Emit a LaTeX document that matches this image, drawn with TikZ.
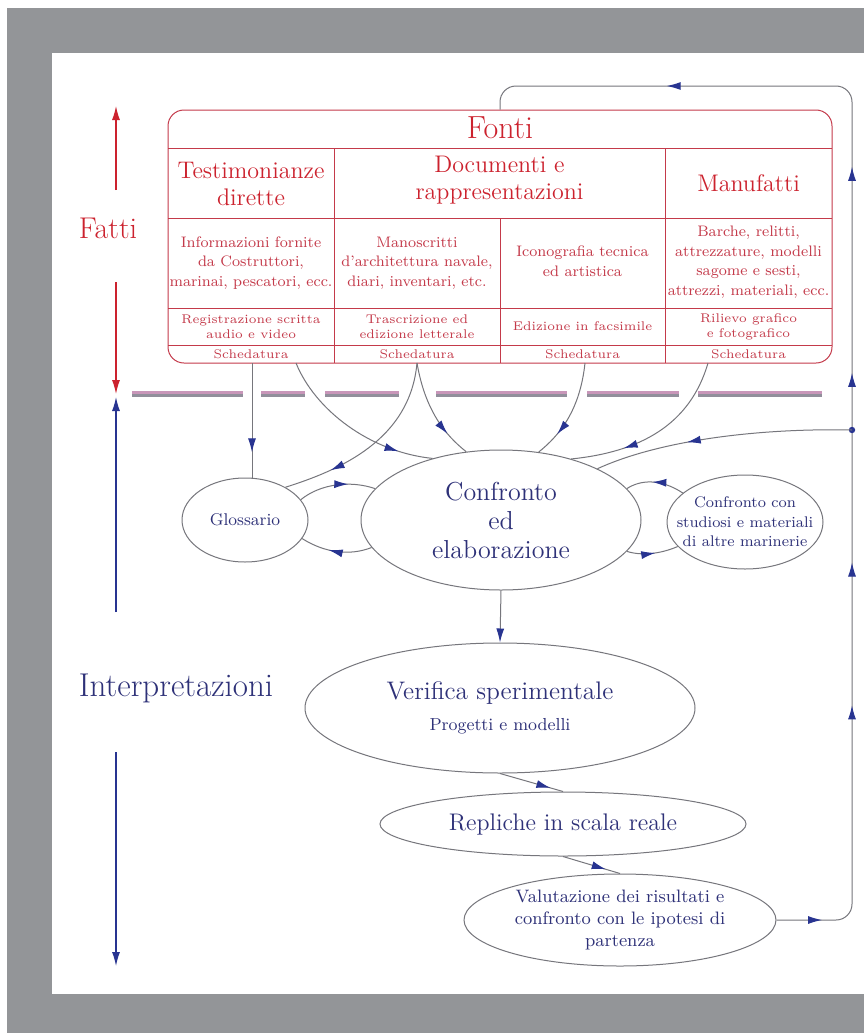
\documentclass[tikz,border=0pt]{standalone}
\usepackage{fontspec}
\usetikzlibrary{arrows.meta,shapes.geometric,decorations.markings}

\definecolor{framegray}{RGB}{147,149,152}
\definecolor{fontired}{RGB}{204,34,46}
\definecolor{boxred}{RGB}{196,58,74}
\definecolor{navytext}{RGB}{46,49,120}
\definecolor{navyhead}{RGB}{40,52,145}
\definecolor{linegray}{RGB}{118,118,124}
\definecolor{sepgray}{RGB}{145,143,155}
\definecolor{seppink}{RGB}{200,150,185}

\begin{document}
\begin{tikzpicture}[x=0.5pt,y=-0.5pt,
  navytip/.tip={Latex[length=7pt,width=4pt,color=navyhead]},
  redtip/.tip={Latex[length=7pt,width=4pt,color=fontired]},
  conn/.style={draw=linegray,line width=0.5pt},
  arrowat/.style={postaction={decorate},decoration={markings,mark=at position #1 with {\arrow{navytip}}}},
  blob/.style={ellipse,draw=linegray,line width=0.5pt,inner xsep=-10pt,inner ysep=-6pt,text=navytext,align=center},
  cell/.style={text=boxred,align=center,inner sep=0pt}]

% background
\useasboundingbox (0,0) rectangle (864,1033);
\fill[white] (0,0) rectangle (864,1033);
\fill[framegray] (7,8) rectangle (864,1033);
\fill[white] (52,53) rectangle (864,994);

% fonti table
\node[draw=boxred,line width=0.5pt,rounded corners=8pt,minimum width=332pt,minimum height=126.5pt,inner sep=0pt] (fonti) at (500,236.5) {};
\draw[boxred,line width=0.5pt] (168,148) -- (832,148) (168,218) -- (832,218)
  (168,308) -- (832,308) (168,345) -- (832,345);
\draw[boxred,line width=0.5pt] (334,148) -- (334,363) (665,148) -- (665,363) (500,218) -- (500,363);

\node[text=fontired,font=\fontsize{16}{18}\selectfont] (title) at (500,128) {Fonti};

\node[cell,text=fontired,font=\fontsize{12}{13.5}\selectfont] (testim) at (251,184) {Testimonianze\\dirette};
\node[cell,text=fontired,font=\fontsize{12}{13.5}\selectfont] (docum) at (499.5,180) {Documenti e\\rappresentazioni};
\node[cell,text=fontired,font=\fontsize{12}{13.5}\selectfont] (manuf) at (748.5,183) {Manufatti};

\node[cell,font=\fontsize{7.6}{9.8}\selectfont] (info) at (251,263) {Informazioni fornite\\da Costruttori,\\marinai, pescatori, ecc.};
\node[cell,font=\fontsize{7.6}{9.8}\selectfont] (manos) at (417,263) {Manoscritti\\d'architettura navale,\\diari, inventari, etc.};
\node[cell,font=\fontsize{7.6}{9.8}\selectfont] (icono) at (582.5,261) {Iconografia tecnica\\ed artistica};
\node[cell,font=\fontsize{7.6}{9.8}\selectfont] (barche) at (748.5,262) {Barche, relitti,\\attrezzature, modelli\\sagome e sesti,\\attrezzi, materiali, ecc.};

\node[cell,font=\fontsize{6.3}{7.6}\selectfont] (regis) at (251,326.5) {Registrazione scritta\\audio e video};
\node[cell,font=\fontsize{6.3}{7.6}\selectfont] (trasc) at (417,326.5) {Trascrizione ed\\edizione letterale};
\node[cell,font=\fontsize{6.3}{7.6}\selectfont] (ediz) at (582.5,326.5) {Edizione in facsimile};
\node[cell,font=\fontsize{6.3}{7.6}\selectfont] (rilievo) at (748.5,326.5) {Rilievo grafico\\e fotografico};

\foreach \cx [count=\i] in {251,417,582.5,748.5}
  \node[cell,font=\fontsize{6.3}{7.6}\selectfont] (sched\i) at (\cx,354) {Schedatura};

% fatti / interpretazioni
\coordinate (ftop) at (116,106);
\coordinate (fa) at (116,190);
\coordinate (fb) at (116,282);
\coordinate (sepa) at (116,394);
\coordinate (sepb) at (116,397);
\coordinate (ia) at (116,612);
\coordinate (ib) at (116,752);
\coordinate (ibot) at (116,966);

\draw[fontired,line width=0.6pt,-redtip] (fa) -- (ftop);
\draw[fontired,line width=0.6pt,-redtip] (fb) -- (sepa);
\draw[navyhead,line width=0.6pt,-navytip] (ia) -- (sepb);
\draw[navyhead,line width=0.6pt,-navytip] (ib) -- (ibot);

\node[text=fontired,font=\fontsize{15}{17}\selectfont] (fatti) at (108,228) {Fatti};
\node[text=navytext,font=\fontsize{16.5}{18}\selectfont] (interp) at (176,688) {Interpretazioni};

% separator
\foreach \a/\b in {132/243,261/305,325/399,436/567,587/679,698/822} {
  \draw[seppink,line width=1.1pt] (\a,392.5) -- (\b,392.5);
  \draw[sepgray,line width=1.3pt] (\a,395.5) -- (\b,395.5);
}

% ellipses
\node[blob,minimum width=63pt,minimum height=42pt,font=\fontsize{8.5}{10}\selectfont] (glos) at (245,520) {Glossario};
\node[blob,minimum width=140pt,minimum height=70pt,font=\fontsize{13}{14.5}\selectfont] (conf) at (501,520) {Confronto\\ed\\elaborazione};
\node[blob,minimum width=78pt,minimum height=47pt,font=\fontsize{7.7}{9.8}\selectfont] (ccon) at (745,522) {Confronto con\\studiosi e materiali\\di altre marinerie};
\node[blob,minimum width=195pt,minimum height=65pt,font=\fontsize{12.7}{15.5}\selectfont] (ver) at (500,708) {Verifica sperimentale\\{\fontsize{8.7}{10}\selectfont Progetti e modelli}};
\node[blob,minimum width=183pt,minimum height=32pt,font=\fontsize{12}{14}\selectfont] (rep) at (563,824) {Repliche in scala reale};
\node[blob,minimum width=156pt,minimum height=46pt,font=\fontsize{9}{11.2}\selectfont] (val) at (620,920) {Valutazione dei risultati e\\confronto con le ipotesi di\\partenza};

% from the sources
\coordinate (s1) at (252,363);
\coordinate (s1b) at (296,363);
\coordinate (s2) at (417,363);
\coordinate (s3) at (585,363);
\coordinate (s4) at (708,363);

\draw[conn,arrowat=0.78] (s1) -- (s1 |- glos.north);
\draw[conn,arrowat=0.8] (s1b) .. controls (315,410) and (370,452) .. (conf.138);
\draw[conn,arrowat=0.75] (s2) .. controls (410,440) and (340,470) .. (glos.39);
\draw[conn,arrowat=0.75] (s2) .. controls (425,410) and (445,435) .. (conf.117);
\draw[conn,arrowat=0.75] (s3) .. controls (580,410) and (560,435) .. (conf.61);
\draw[conn,arrowat=0.7] (s4) .. controls (690,425) and (640,452) .. (conf.41);

% exchanges
\draw[conn,arrowat=0.65] (glos.20) .. controls (320,484) and (350,480) .. (conf.166);
\draw[conn,arrowat=0.6] (conf.192) .. controls (350,556) and (325,553) .. (glos.-18);
\draw[conn,arrowat=0.55] (ccon.155) .. controls (660,478) and (640,480) .. (conf.14);
\draw[conn,arrowat=0.55] (conf.-14) .. controls (645,557) and (665,552) .. (ccon.200);

% downward chain
\draw[conn,-navytip] (conf.south) -- (ver.north);
\draw[conn,arrowat=0.8] (ver.south) -- (rep.north);
\draw[conn,arrowat=0.75] (rep.south) -- (val.north);

% feedback loop
\coordinate (dot) at (852,430);
\draw[conn,rounded corners=8pt,postaction={decorate},decoration={markings,
    mark=at position 0.036 with {\arrow{navytip}},
    mark=at position 0.224 with {\arrow{navytip}},
    mark=at position 0.337 with {\arrow{navytip}},
    mark=at position 0.487 with {\arrow{navytip}},
    mark=at position 0.65 with {\arrow{navytip}},
    mark=at position 0.855 with {\arrow{navytip}}}]
  (val.east) -- (852,920) -- (852,86) -- (500,86) -- (fonti.north);
\fill[navyhead] (dot) circle (1.6pt);
\draw[conn,arrowat=0.64] (dot) .. controls (760,428) and (660,440) .. (conf.28);

\end{tikzpicture}
\end{document}
